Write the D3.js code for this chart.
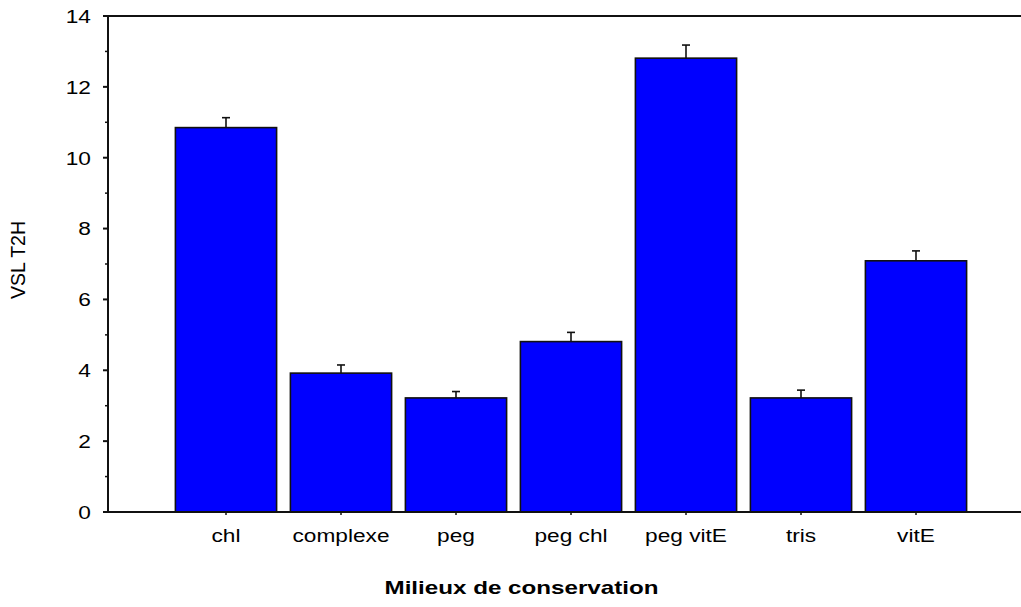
<!DOCTYPE html>
<html>
<head>
<meta charset="utf-8">
<script src="https://cdn.jsdelivr.net/npm/d3@7"></script>
<style>
  html, body { margin: 0; padding: 0; background: #fff; }
  svg { display: block; }
  text { font-family: "Liberation Sans", Arial, sans-serif; fill: #000; }
</style>
</head>
<body>
<svg id="chart" width="1021" height="607"></svg>
<script>
const categories = ["chl", "complexe", "peg", "peg chl", "peg vitE", "tris", "vitE"];
const values = [10.85, 3.92, 3.22, 4.81, 12.81, 3.22, 7.09];
const errors = [0.28, 0.23, 0.18, 0.26, 0.37, 0.22, 0.28];
const yTicks = [0, 2, 4, 6, 8, 10, 12, 14];
const yMinorTicks = [1, 3, 5, 7, 9, 11, 13];
const yLabel = "VSL T2H";
const xLabel = "Milieux de conservation";

const svg = d3.select("#chart");
const W = 1021, H = 607;
const axisX = 108, axisRight = 1021, y0px = 512, y14px = 16;
const textStretch = 1.22;

const x = d3.scaleBand().domain(categories).range([168.5, 973.5])
  .paddingInner(0.12).paddingOuter(0.06);
const y = d3.scaleLinear().domain([0, 14]).range([y0px, y14px]);

const data = categories.map((c, i) => ({ c, v: values[i], e: errors[i] }));

// bars
svg.append("g").selectAll("rect").data(data).join("rect")
  .attr("x", d => x(d.c))
  .attr("y", d => y(d.v))
  .attr("width", x.bandwidth())
  .attr("height", d => y(0) - y(d.v))
  .attr("fill", "#0000ff")
  .attr("stroke", "#111")
  .attr("stroke-width", 1.6);

// error bars (upper only)
const eg = svg.append("g").attr("stroke", "#111").attr("stroke-width", 1.6);
data.forEach(d => {
  const cx = x(d.c) + x.bandwidth() / 2;
  eg.append("line").attr("x1", cx).attr("x2", cx).attr("y1", y(d.v)).attr("y2", y(d.v + d.e));
  eg.append("line").attr("x1", cx - 4).attr("x2", cx + 4).attr("y1", y(d.v + d.e)).attr("y2", y(d.v + d.e));
});

// axes lines
const ax = svg.append("g").attr("stroke", "#111").attr("stroke-width", 2);
ax.append("line").attr("x1", axisX).attr("x2", axisX).attr("y1", y(14) - 1).attr("y2", y(0) + 1);
ax.append("line").attr("x1", axisX - 1).attr("x2", axisRight).attr("y1", y(0)).attr("y2", y(0));
ax.append("line").attr("x1", axisX - 1).attr("x2", axisRight).attr("y1", y(14)).attr("y2", y(14));

// y ticks
yTicks.forEach(t => {
  ax.append("line").attr("x1", axisX - 5).attr("x2", axisX).attr("y1", y(t)).attr("y2", y(t));
});
yMinorTicks.forEach(t => {
  ax.append("line").attr("x1", axisX - 3).attr("x2", axisX).attr("y1", y(t)).attr("y2", y(t))
    .attr("stroke-width", 1.5);
});
// x ticks
categories.forEach(c => {
  const cx = x(c) + x.bandwidth() / 2;
  ax.append("line").attr("x1", cx).attr("x2", cx).attr("y1", y(0)).attr("y2", y(0) + 3)
    .attr("stroke-width", 1.5);
});

function stretchedText(px, py, str, anchor, size, weight, sx) {
  const g = svg.append("g").attr("transform", `translate(${px},${py}) scale(${sx},1)`);
  g.append("text").attr("x", 0).attr("y", 0)
    .attr("text-anchor", anchor)
    .attr("font-size", size)
    .attr("font-weight", weight || "normal")
    .text(str);
}

// y tick labels
yTicks.forEach(t => stretchedText(91, y(t) + 6.8, String(t), "end", 18.6, "normal", textStretch));
// x tick labels
categories.forEach(c => stretchedText(x(c) + x.bandwidth() / 2, 542, c, "middle", 18.6, "normal", textStretch));

// y axis label
svg.append("text")
  .attr("transform", `translate(25,260) rotate(-90)`)
  .attr("text-anchor", "middle")
  .attr("font-size", 19.5)
  .text(yLabel);

// x axis label
stretchedText(521.5, 594, xLabel, "middle", 18.6, "bold", 1.3);
</script>
</body>
</html>
